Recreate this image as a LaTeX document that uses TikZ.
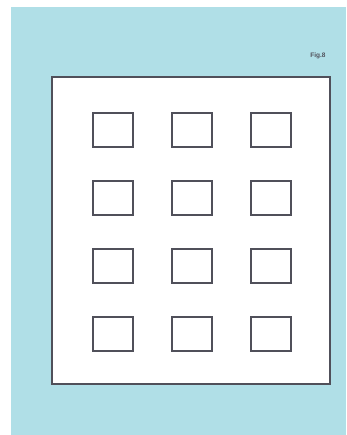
\documentclass[tikz,border=0pt]{standalone}
\usepackage{fontspec}
\setsansfont{Liberation Sans}
\definecolor{bgblue}{RGB}{176,223,231}
\definecolor{edge}{RGB}{80,80,90}
\begin{document}
\begin{tikzpicture}[x=1pt,y=-1pt,
  cell/.style={draw=edge,line width=1.8pt,fill=white,minimum width=40pt,minimum height=34pt,inner sep=0pt,anchor=north west},
  panel/.style={draw=edge,line width=1.5pt,fill=white}]
\useasboundingbox (0,0) rectangle (346,435);
\fill[white] (0,0) rectangle (346,435);
\fill[bgblue] (11,7) rectangle (346,435);
\draw[panel] (52,77) rectangle (330,384);
\node[font=\sffamily\bfseries\fontsize{6.5}{7}\selectfont,text=edge] (fig) at (318,56) {Fig.8};
\foreach \r/\yy in {1/112,2/180,3/248,4/316}{
  \foreach \c/\xx in {1/92,2/171,3/250}{
    \node[cell] (c\r\c) at (\xx,\yy) {};
  }
}
\end{tikzpicture}
\end{document}
